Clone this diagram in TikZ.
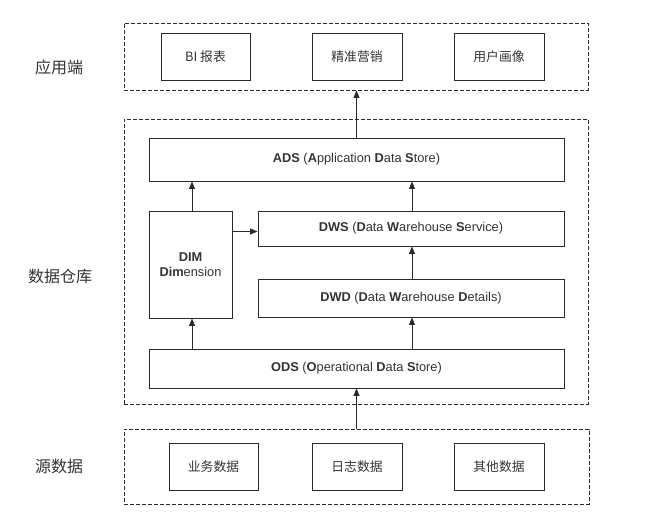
\documentclass[tikz,border=0pt]{standalone}
\usepackage{fontspec}
\setmainfont{Liberation Sans}
\newfontfamily\cjk{Noto Sans CJK SC}
\usetikzlibrary{arrows.meta}
\definecolor{ink}{HTML}{2A2A2A}
\definecolor{txt}{HTML}{333333}
\begin{document}
\begin{tikzpicture}[x=1pt,y=-1pt,
  line width=0.9pt,
  box/.style={draw=ink, inner sep=0pt, text=txt, font=\fontsize{12.8}{15}\selectfont, align=center},
  cbox/.style={box, font=\cjk\fontsize{12.8}{15}\selectfont},
  grp/.style={draw=ink, dash pattern=on 4pt off 2pt, inner sep=0pt},
  lbl/.style={text=txt, font=\cjk\fontsize{16}{18}\selectfont},
  arr/.style={draw=ink, -{Triangle[length=7.5pt,width=6pt]}}]
\useasboundingbox (0,0) rectangle (656,528);
% groups
\node[grp, minimum width=464pt, minimum height=67pt] (appgrp) at (356,56.5) {};
\node[grp, minimum width=464pt, minimum height=285pt] (dwgrp) at (356,261.5) {};
\node[grp, minimum width=465pt, minimum height=75pt] (srcgrp) at (356.5,466.5) {};
% labels
\node[lbl] (l1) at (59,67) {应用端};
\node[lbl] (l2) at (60,276) {数据仓库};
\node[lbl] (l3) at (59,466) {源数据};
% app boxes
\node[cbox, minimum width=89pt, minimum height=47pt] (bi) at (205.5,56.5) {BI 报表};
\node[cbox, minimum width=90pt, minimum height=47pt] (mk) at (357,56.5) {精准营销};
\node[cbox, minimum width=90pt, minimum height=47pt] (up) at (499,56.5) {用户画像};
% warehouse
\node[box, minimum width=415pt, minimum height=43pt] (ads) at (356.5,159.5) {\textbf{ADS} (\textbf{A}pplication \textbf{D}ata \textbf{S}tore)};
\node[box, minimum width=83pt, minimum height=107pt] (dim) at (190.5,264.5) {\textbf{DIM}\\\textbf{Dim}ension};
\node[box, minimum width=306pt, minimum height=35pt] (dws) at (411,228.5) {\textbf{DWS} (\textbf{D}ata \textbf{W}arehouse \textbf{S}ervice)};
\node[box, minimum width=306pt, minimum height=38pt] (dwd) at (411,298) {\textbf{DWD} (\textbf{D}ata \textbf{W}arehouse \textbf{D}etails)};
\node[box, minimum width=415pt, minimum height=39pt] (ods) at (356.5,368.5) {\textbf{ODS} (\textbf{O}perational \textbf{D}ata \textbf{S}tore)};
% sources
\node[cbox, minimum width=89pt, minimum height=47pt] (s1) at (213.5,466.5) {业务数据};
\node[cbox, minimum width=90pt, minimum height=47pt] (s2) at (357,466.5) {日志数据};
\node[cbox, minimum width=90pt, minimum height=47pt] (s3) at (499,466.5) {其他数据};
% arrows
\draw[arr] (srcgrp.north) -- (srcgrp.north |- ods.south);
\draw[arr] ([xshift=1.5pt]ods.north -| dim.south) -- ([xshift=1.5pt]dim.south);
\draw[arr] ([xshift=1pt]ods.north -| dwd.south) -- ([xshift=1pt]dwd.south);
\draw[arr] ([xshift=1pt]dwd.north) -- ([xshift=1pt]dws.south);
\draw[arr] ([xshift=1.5pt]dim.north) -- ([xshift=1.5pt]dim.north |- ads.south);
\draw[arr] ([xshift=1pt]dws.north) -- ([xshift=1pt]dws.north |- ads.south);
\draw[arr] ([yshift=-3pt]dim.east |- dws.west) -- ([yshift=-3pt]dws.west);
\draw[arr] (ads.north) -- (ads.north |- appgrp.south);
\end{tikzpicture}
\end{document}
